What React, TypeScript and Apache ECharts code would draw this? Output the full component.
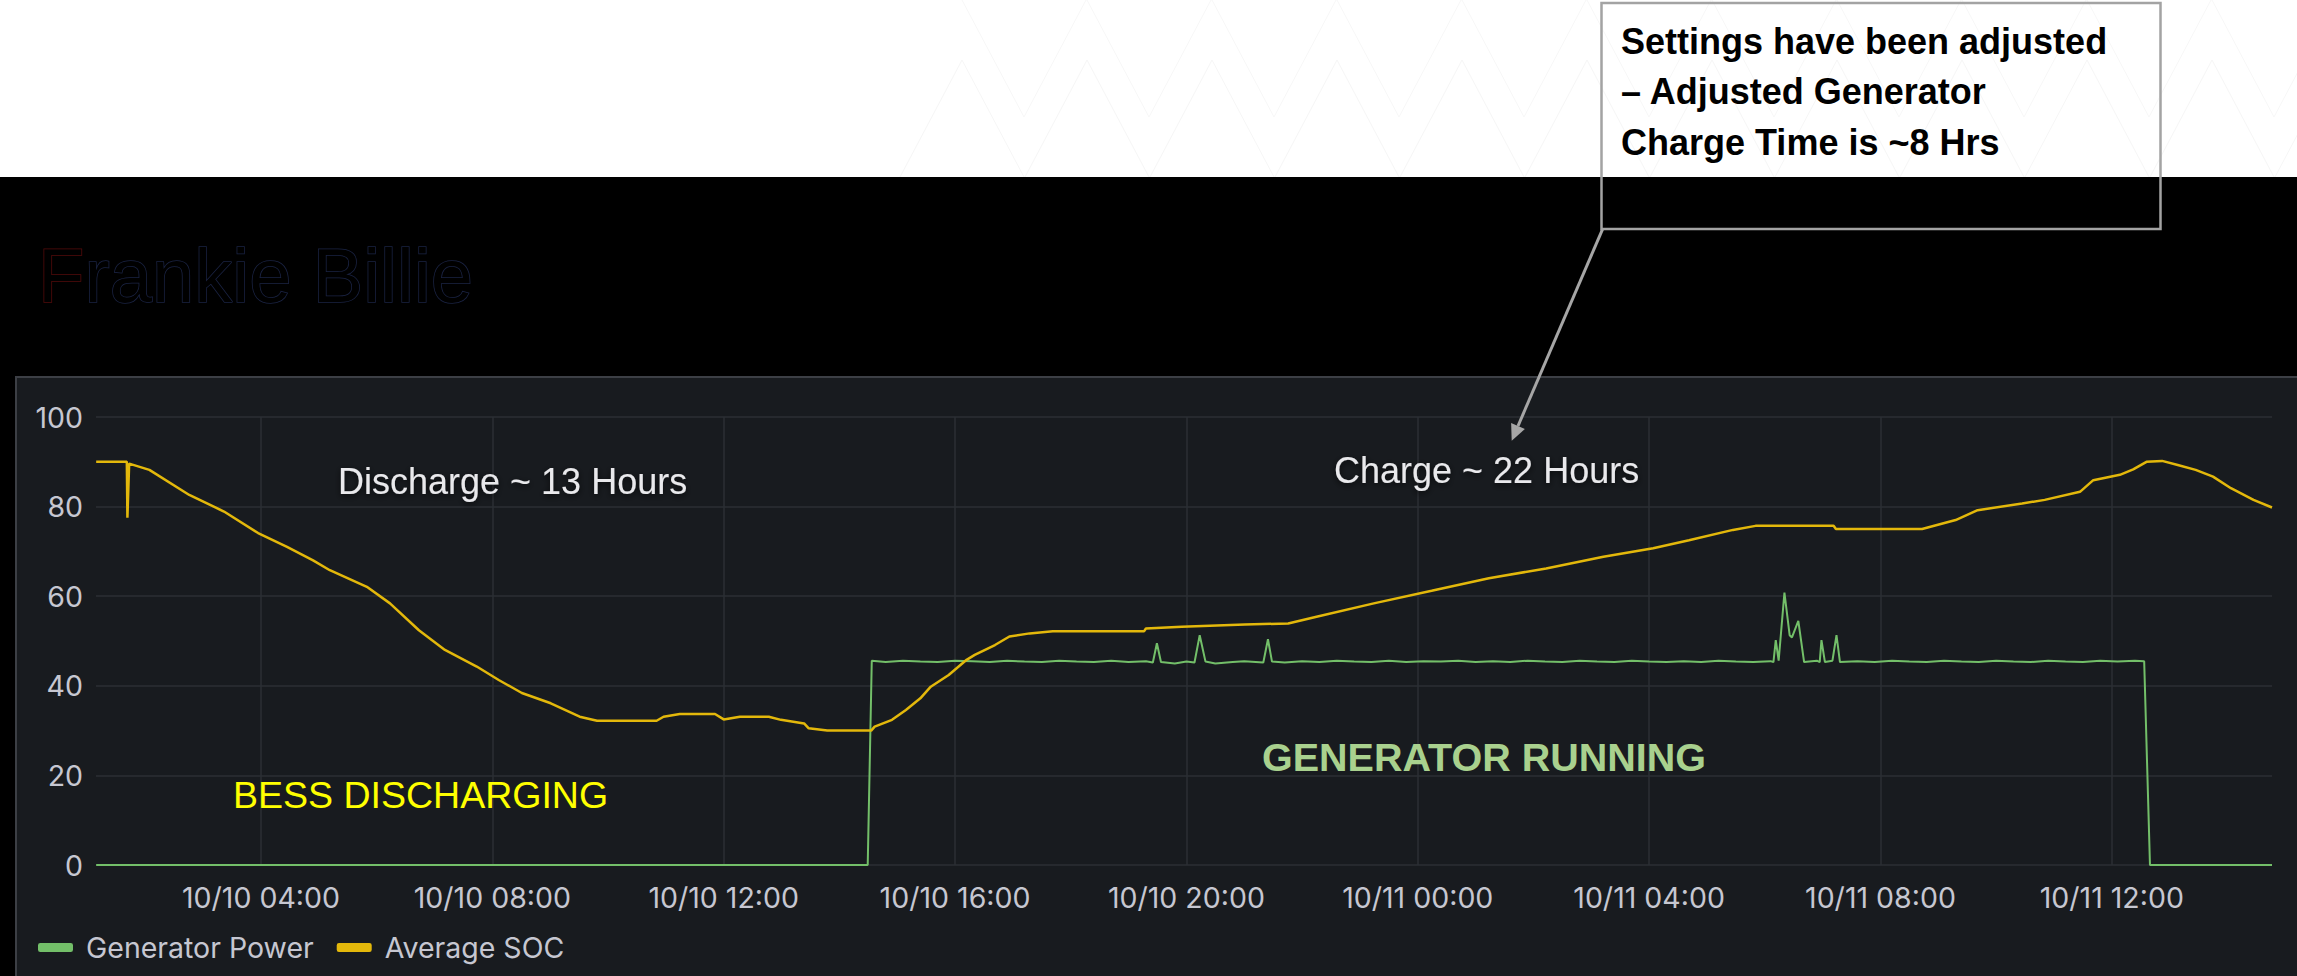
import React, { useEffect, useRef } from 'react';
import * as echarts from 'echarts';

// ---- data (hours since 10/10 00:00) ----
const seriesNames = ['Generator Power', 'Average SOC'];

const socHours = [
  1.15, 1.68, 1.69, 1.72, 2.07, 2.76, 3.36, 3.95, 4.45, 4.9, 5.19, 5.83, 6.23, 6.73, 7.18, 7.73,
  8.11, 8.51, 9.01, 9.51, 9.81, 10.84, 10.96, 11.24, 11.85, 12.0, 12.28, 12.78, 12.99, 13.39,
  13.47, 13.79, 14.55, 14.61, 14.91, 15.15, 15.4, 15.58, 15.89, 16.2, 16.34, 16.69, 16.94, 17.29,
  17.69, 19.27, 19.3, 19.92, 21.01, 21.76, 22.25, 23.24, 24.24, 25.23, 26.22, 27.21, 28.07, 28.69,
  29.45, 29.84, 31.19, 31.23, 32.72, 33.3, 33.68, 34.45, 34.84, 35.45, 35.68, 36.14, 36.37, 36.6,
  36.87, 37.14, 37.45, 37.75, 38.06, 38.45, 38.77,
];
const socValues = [
  90, 90, 77.5, 89.6, 88.2, 82.6, 78.9, 74.1, 71.0, 68.0, 65.8, 62.1, 58.4, 52.4, 48.0, 44.3,
  41.3, 38.4, 36.1, 33.1, 32.2, 32.2, 33.1, 33.7, 33.7, 32.5, 33.1, 33.1, 32.4, 31.6,
  30.5, 30.0, 30.0, 30.9, 32.4, 34.6, 37.2, 39.8, 42.4, 45.8, 46.9, 49.1, 51.0, 51.7,
  52.2, 52.2, 52.8, 53.2, 53.7, 53.9, 55.4, 58.4, 61.2, 64.0, 66.2, 68.8, 70.7, 72.5,
  74.8, 75.7, 75.7, 75.0, 75.0, 77.0, 79.2, 80.7, 81.5, 83.3, 85.9, 87.1, 88.3, 90.0,
  90.2, 89.3, 88.2, 86.7, 84.1, 81.5, 79.8,
];

const genHours = [
  1.15, 14.49, 14.56, 14.8, 15.1, 15.4, 15.7, 16.0, 16.3, 16.6, 16.9, 17.2, 17.5, 17.8, 18.1,
  18.4, 18.7, 19.0, 19.3, 19.42, 19.49, 19.56, 19.8, 20.0, 20.14, 20.23, 20.33, 20.5, 20.8, 21.0,
  21.33, 21.41, 21.48, 21.7, 22.0, 22.3, 22.6, 22.9, 23.2, 23.5, 23.8, 24.1, 24.4, 24.7, 25.0,
  25.3, 25.6, 25.9, 26.2, 26.5, 26.8, 27.1, 27.4, 27.7, 28.0, 28.3, 28.6, 28.9, 29.2, 29.5,
  29.8, 30.1, 30.15, 30.19, 30.24, 30.34, 30.43, 30.47, 30.58, 30.68, 30.9, 30.95, 30.98, 31.04,
  31.17, 31.24, 31.3, 31.6, 31.9, 32.2, 32.5, 32.8, 33.1, 33.4, 33.7, 34.0, 34.3, 34.6, 34.9,
  35.2, 35.5, 35.8, 36.1, 36.4, 36.56, 36.66, 38.77,
];
const genValues = [
  0, 0, 45.6, 45.3, 45.6, 45.4, 45.3, 45.6, 45.5, 45.3, 45.6, 45.4, 45.3, 45.6, 45.4,
  45.3, 45.6, 45.3, 45.5, 45.2, 49.5, 45.3, 45.0, 45.4, 45.2, 51.3, 45.4, 45.0, 45.3, 45.5,
  45.2, 50.4, 45.4, 45.2, 45.5, 45.3, 45.6, 45.4, 45.3, 45.6, 45.3, 45.5, 45.4, 45.6, 45.3,
  45.5, 45.3, 45.6, 45.4, 45.3, 45.6, 45.4, 45.3, 45.6, 45.4, 45.3, 45.5, 45.3, 45.6, 45.4,
  45.3, 45.5, 45.3, 50.2, 45.6, 60.8, 51.3, 50.8, 54.5, 45.3, 45.6, 45.3, 50.2, 45.3,
  45.6, 51.3, 45.3, 45.5, 45.3, 45.6, 45.4, 45.3, 45.6, 45.4, 45.3, 45.6, 45.4, 45.3, 45.6,
  45.4, 45.3, 45.6, 45.4, 45.6, 45.5, 0, 0,
];

const axisStartHour = 1.147;
const axisEndHour = 38.77;
const yMin = 0;
const yMax = 100;
const yStep = 20;

const annotationTexts = ['Discharge ~ 13 Hours', 'Charge ~ 22 Hours', 'BESS DISCHARGING', 'GENERATOR RUNNING'];
const calloutLines = ['Settings have been adjusted', '– Adjusted Generator', 'Charge Time is ~8 Hrs'];
const titleText = 'Frankie Billie';

// ---- helpers ----
const HOUR = 3600 * 1000;
const BASE = new Date(2024, 9, 10, 0, 0, 0).getTime();
const toTime = (h: number) => BASE + h * HOUR;
const pad = (n: number) => (n < 10 ? '0' + n : '' + n);

const W = 2297;
const H = 976;

function buildPattern() {
  const els: any[] = [];
  for (let i = 0; i < 12; i++) {
    const x0 = 900 + i * 125;
    els.push({
      type: 'polyline',
      silent: true,
      z: -9,
      shape: { points: [[x0, 177], [x0 + 62, 60], [x0 + 124, 177]] },
      style: { stroke: '#f6f6f6', lineWidth: 1, fill: 'none' },
    });
    els.push({
      type: 'polyline',
      silent: true,
      z: -9,
      shape: { points: [[x0 + 62, 0], [x0 + 124, 117], [x0 + 186, 0]] },
      style: { stroke: '#f7f7f7', lineWidth: 1, fill: 'none' },
    });
  }
  return els;
}

export default function App() {
  const ref = useRef<HTMLDivElement>(null);

  useEffect(() => {
    if (!ref.current) return;
    const chart = echarts.init(ref.current, null, { renderer: 'svg' });

    const genData = genHours.map((h, i) => [toTime(h), genValues[i]]);
    const socData = socHours.map((h, i) => [toTime(h), socValues[i]]);

    // arrow geometry
    const aStart = [1602.5, 229.3];
    const aTip = [1511.7, 440.7];
    const dx = aTip[0] - aStart[0];
    const dy = aTip[1] - aStart[1];
    const len = Math.sqrt(dx * dx + dy * dy);
    const ux = dx / len;
    const uy = dy / len;
    const baseC = [aTip[0] - 16 * ux, aTip[1] - 16 * uy];
    const px = -uy;
    const py = ux;

    const axisText = { color: '#c6c7d1', fontSize: 28.5, fontFamily: 'Inter' };

    const option: any = {
      animation: false,
      backgroundColor: '#000000',
      grid: { left: 96, right: W - 2272, top: 417, bottom: H - 865, containLabel: false },
      legend: {
        data: seriesNames,
        left: 33,
        top: 928,
        icon: 'roundRect',
        itemWidth: 35,
        itemHeight: 9,
        itemGap: 23,
        textStyle: { ...axisText, padding: [0, 0, 0, 8] },
      },
      xAxis: {
        type: 'time',
        min: toTime(axisStartHour),
        max: toTime(axisEndHour),
        splitNumber: 8,
        minInterval: 4 * HOUR,
        maxInterval: 4 * HOUR,
        axisLine: { show: false },
        axisTick: { show: false },
        splitLine: { show: true, showMinLine: false, showMaxLine: false, lineStyle: { color: '#2b2f35', width: 1.5 } },
        axisLabel: {
          ...axisText,
          margin: 18,
          hideOverlap: false,
          formatter: (v: number) => {
            const d = new Date(v);
            if (d.getMinutes() !== 0 || d.getHours() % 4 !== 0) return '';
            return `${pad(d.getMonth() + 1)}/${pad(d.getDate())} ${pad(d.getHours())}:00`;
          },
        },
      },
      yAxis: {
        type: 'value',
        min: yMin,
        max: yMax,
        interval: yStep,
        axisLine: { show: false },
        axisTick: { show: false },
        splitLine: { show: true, lineStyle: { color: '#2b2f35', width: 1.5 } },
        axisLabel: { ...axisText, margin: 13 },
      },
      series: [
        {
          name: seriesNames[0],
          type: 'line',
          data: genData,
          showSymbol: false,
          symbol: 'none',
          color: '#73BF69',
          lineStyle: { color: '#73BF69', width: 2 },
          z: 3,
        },
        {
          name: seriesNames[1],
          type: 'line',
          data: socData,
          showSymbol: false,
          symbol: 'none',
          color: '#E3B80B',
          lineStyle: { color: '#E3B80B', width: 2.5 },
          z: 4,
        },
      ],
      graphic: [
        {
          type: 'rect',
          silent: true,
          z: -10,
          shape: { x: 0, y: 0, width: W, height: 177 },
          style: { fill: '#ffffff' },
        },
        ...buildPattern(),
        {
          type: 'rect',
          silent: true,
          z: -8,
          shape: { x: 16, y: 377, width: W, height: H },
          style: { fill: '#181b1f', stroke: '#3c3f45', lineWidth: 2 },
        },
        {
          type: 'text',
          silent: true,
          z: 50,
          x: 38,
          y: 275,
          style: {
            text: '{f|F}{r|' + titleText.slice(1) + '}',
            verticalAlign: 'middle',
            rich: {
              f: { fontSize: 76, fontFamily: 'Liberation Sans', fill: '#000000', stroke: '#560b0b', lineWidth: 1.5 },
              r: { fontSize: 76, fontFamily: 'Liberation Sans', fill: '#000000', stroke: '#1b2445', lineWidth: 1.5 },
            },
          },
        },
        {
          type: 'rect',
          silent: true,
          z: 60,
          shape: { x: 1601.5, y: 3, width: 559, height: 226 },
          style: { fill: 'none', stroke: '#a3a3a3', lineWidth: 2.5 },
        },
        ...calloutLines.map((t, i) => ({
          type: 'text',
          silent: true,
          z: 61,
          x: 1621,
          y: 41 + i * 50.5,
          style: {
            text: t,
            fill: '#000000',
            fontSize: 36,
            fontWeight: 'bold',
            fontFamily: 'Liberation Sans',
            verticalAlign: 'middle',
          },
        })),
        {
          type: 'line',
          silent: true,
          z: 62,
          shape: { x1: aStart[0], y1: aStart[1], x2: baseC[0], y2: baseC[1] },
          style: { stroke: '#a6a6a6', lineWidth: 3 },
        },
        {
          type: 'polygon',
          silent: true,
          z: 62,
          shape: {
            points: [
              [aTip[0], aTip[1]],
              [baseC[0] + 7.5 * px, baseC[1] + 7.5 * py],
              [baseC[0] - 7.5 * px, baseC[1] - 7.5 * py],
            ],
          },
          style: { fill: '#a6a6a6' },
        },
        {
          type: 'text',
          silent: true,
          z: 50,
          x: 338,
          y: 481,
          style: {
            text: annotationTexts[0],
            fill: '#e9e9ec',
            fontSize: 36,
            fontFamily: 'Liberation Sans',
            verticalAlign: 'middle',
            textShadowColor: 'rgba(0,0,0,0.7)',
            textShadowBlur: 6,
            textShadowOffsetY: 2,
          },
        },
        {
          type: 'text',
          silent: true,
          z: 50,
          x: 1334,
          y: 470,
          style: {
            text: annotationTexts[1],
            fill: '#e9e9ec',
            fontSize: 36,
            fontFamily: 'Liberation Sans',
            verticalAlign: 'middle',
            textShadowColor: 'rgba(0,0,0,0.7)',
            textShadowBlur: 6,
            textShadowOffsetY: 2,
          },
        },
        {
          type: 'text',
          silent: true,
          z: 50,
          x: 233,
          y: 795,
          style: {
            text: annotationTexts[2],
            fill: '#ffff00',
            fontSize: 37.5,
            fontFamily: 'Liberation Sans',
            verticalAlign: 'middle',
          },
        },
        {
          type: 'text',
          silent: true,
          z: 50,
          x: 1262,
          y: 757,
          style: {
            text: annotationTexts[3],
            fill: '#a9d18e',
            fontSize: 39.5,
            fontWeight: 'bold',
            fontFamily: 'Liberation Sans',
            verticalAlign: 'middle',
          },
        },
      ],
    };

    chart.setOption(option);
    return () => chart.dispose();
  }, []);

  return (
    <div
      ref={ref}
      style={{ position: 'fixed', left: 0, top: 0, width: W, height: H }}
    />
  );
}
